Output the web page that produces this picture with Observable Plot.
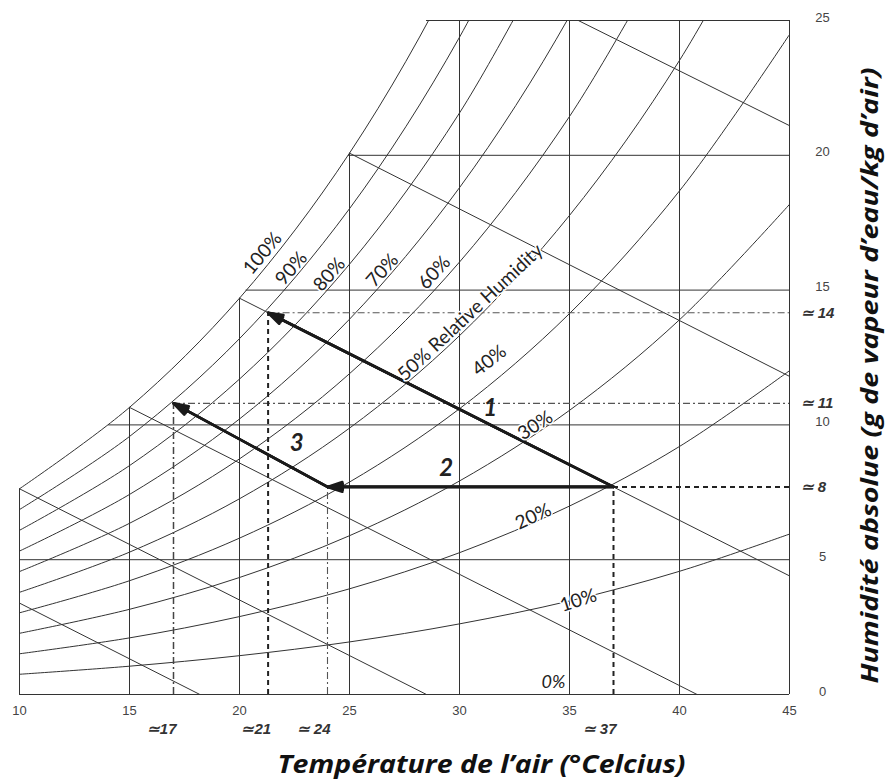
<!DOCTYPE html>
<html><head><meta charset="utf-8">
<script src="https://cdn.jsdelivr.net/npm/d3@7"></script>
<script src="https://cdn.jsdelivr.net/npm/@observablehq/plot@0.6"></script>
<style>body{margin:0;background:#fff}</style>
</head><body><div id="chart"></div>
<script>
// Relative-humidity curves: absolute humidity (g/kg) at each temperature (°C)
const temps = [10, 15, 20, 25, 30, 35, 40, 45];
const rhLevels = [100, 90, 80, 70, 60, 50, 40, 30, 20, 10];
const rh100 = [7.63, 10.65, 14.70, 20.08, 27.20, 36.58];
const rh90 = [6.86, 9.57, 13.20, 18.02, 24.38, 32.73];
const rh80 = [6.09, 8.49, 11.70, 15.96, 21.57, 28.92];
const rh70 = [5.32, 7.42, 10.22, 13.92, 18.80, 25.16, 33.43];
const rh60 = [4.56, 6.35, 8.74, 11.90, 16.04, 21.44, 28.44];
const rh50 = [3.79, 5.28, 7.26, 9.88, 13.31, 17.77, 23.52, 30.91];
const rh40 = [3.03, 4.22, 5.80, 7.88, 10.60, 14.13, 18.68, 24.48];
const rh30 = [2.27, 3.16, 4.34, 5.89, 7.92, 10.54, 13.90, 18.18];
const rh20 = [1.51, 2.10, 2.89, 3.92, 5.26, 6.99, 9.20, 12.01];
const rh10 = [0.75, 1.05, 1.44, 1.95, 2.62, 3.47, 4.57, 5.95];

// Grid lines (start on the saturation curve)
const gridT = [10, 15, 20, 25, 30, 35, 40, 45];
const gridTTop = [7.63, 10.65, 14.70, 20.08, 25, 25, 25, 25];
const gridW = [0, 5, 10, 15, 20, 25];
const gridWStart = [10, 10, 14.05, 20.3, 24.95, 28.5];

// Wet-bulb lines
const wbT1 = [10, 10, 15, 20, 25, 35.4];
const wbW1 = [3.39, 7.63, 10.65, 14.70, 20.08, 25];
const wbT2 = [18.2, 28.5, 40.8, 45, 45, 45];
const wbW2 = [0, 0, 0, 4.4, 11.8, 21.1];

// Processes 1, 2, 3
const procNames = ["1", "2", "3"];
const procFromT = [37, 37, 24];
const procFromW = [7.7, 7.7, 7.7];
const procToT = [21.3, 24, 17];
const procToW = [14.16, 7.7, 10.8];
const procLabelT = [31.4, 29.4, 22.6];
const procLabelW = [10.6, 8.4, 9.3];

// Read-off guide values
const guideXT = [17, 21.3, 24, 37];
const guideXTop = [10.8, 14.16, 7.7, 7.7];
const guideXLabels = ["≃17", "≃21", "≃ 24", "≃ 37"];
const guideYW = [14.16, 10.8, 7.7];
const guideYStart = [21.3, 17, 37];
const guideYLabels = ["≃ 14", "≃ 11", "≃ 8"];

// RH labels
const rhLabelText = ["100%", "90%", "80%", "70%", "60%", "50% Relative Humidity", "40%", "30%", "20%", "10%"];
const rhLabelT = [21.05, 22.36, 24.09, 26.5, 28.86, 30.5, 31.36, 33.45, 33.36, 35.4];
const rhLabelW = [16.36, 15.8, 15.58, 15.73, 15.65, 14.17, 12.39, 9.98, 6.6, 3.49];
const rhLabelAngle = [-50, -49, -49, -48, -48, -43, -38, -33, -25, -18];

const xTicks = [10, 15, 20, 25, 30, 35, 40, 45];
const yTicks = [0, 5, 10, 15, 20, 25];

const xTitle = "Température de l’air (°Celcius)";
const yTitle = "Humidité absolue (g de vapeur d’eau/kg d’air)";

const curves = [rh100, rh90, rh80, rh70, rh60, rh50, rh40, rh30, rh20, rh10];
const rhRows = rhLevels.flatMap((rh, i) => curves[i].map((w, j) => ({rh, T: temps[j], w})));
const vGrid = gridT.map((t, i) => ({t, top: gridTTop[i]}));
const hGrid = gridW.map((w, i) => ({w, start: gridWStart[i]}));
const wb = wbT1.map((t, i) => ({x1: t, y1: wbW1[i], x2: wbT2[i], y2: wbW2[i]}));
const procs = procNames.map((n, i) => ({n, x1: procFromT[i], y1: procFromW[i], x2: procToT[i], y2: procToW[i], lx: procLabelT[i], ly: procLabelW[i]}));
const gX = guideXT.map((t, i) => ({t, top: guideXTop[i], label: guideXLabels[i]}));
const gY = guideYW.map((w, i) => ({w, start: guideYStart[i], label: guideYLabels[i]}));
const rhLabels = rhLabelText.map((s, i) => ({s, T: rhLabelT[i], w: rhLabelW[i], a: rhLabelAngle[i]}));

const ink = "#333";
const lab = "Lato, 'Open Sans', sans-serif";
const ttl = "'Open Sans', Lato, sans-serif";
const tick = "'Liberation Sans', Arial, sans-serif";

const arrowHeads = [8, 22, 36].map(angle =>
  Plot.arrow(procs, {x1: "x1", y1: "y1", x2: "x2", y2: "y2", stroke: "#1a1a1a", strokeWidth: 2.6, headLength: 9, headAngle: angle})
);

const chart = Plot.plot({
  width: 886, height: 780,
  marginLeft: 19, marginRight: 97, marginTop: 20, marginBottom: 86,
  x: {domain: [10, 45]},
  y: {domain: [0, 25]},
  style: {background: "#fff"},
  marks: [
    Plot.ruleX(vGrid, {x: "t", y1: 0, y2: "top", stroke: ink, strokeWidth: 1}),
    Plot.ruleY(hGrid, {y: "w", x1: "start", x2: 45, stroke: ink, strokeWidth: 1}),
    Plot.line(rhRows, {x: "T", y: "w", z: "rh", curve: "catmull-rom", stroke: ink, strokeWidth: 1, clip: "frame"}),
    Plot.link(wb, {x1: "x1", y1: "y1", x2: "x2", y2: "y2", stroke: ink, strokeWidth: 1}),
    // guide dashed lines
    Plot.ruleY(gY.filter(d => d.w > 8), {y: "w", x1: "start", x2: 45, stroke: "#555", strokeWidth: 1.2, strokeDasharray: "7,3,2,3"}),
    Plot.ruleY(gY.filter(d => d.w < 8), {y: "w", x1: "start", x2: 45, stroke: "#222", strokeWidth: 2, strokeDasharray: "5,4"}),
    Plot.ruleX(gX.filter(d => d.t === 21.3 || d.t === 37), {x: "t", y1: 0, y2: "top", stroke: "#222", strokeWidth: 2, strokeDasharray: "5,4"}),
    Plot.ruleX(gX.filter(d => d.t === 17), {x: "t", y1: 0, y2: "top", stroke: "#444", strokeWidth: 1.5, strokeDasharray: "7,3,2,3"}),
    Plot.ruleX(gX.filter(d => d.t === 24), {x: "t", y1: 0, y2: "top", stroke: "#555", strokeWidth: 1.1, strokeDasharray: "7,3,2,3"}),
    ...arrowHeads,
    Plot.text(rhLabels, {x: "T", y: "w", text: "s", rotate: "a", fontFamily: lab, fontSize: 19, fill: "#222", stroke: "white", strokeWidth: 3}),
    Plot.text(["0%"], {x: 34.27, y: 0.45, fontFamily: lab, fontSize: 18, fontStyle: "italic", fill: "#222"}),
    Plot.text(procs, {x: "lx", y: "ly", text: "n", fontFamily: lab, fontSize: 24, fontWeight: "bold", fontStyle: "italic", fill: "#222"}),
    Plot.axisX({ticks: xTicks, tickSize: 0, tickPadding: 11, fontSize: 13, fontFamily: tick, fill: "#444", label: null}),
    Plot.axisY({anchor: "right", ticks: yTicks, tickSize: 0, tickPadding: 33, textAnchor: "middle", dy: -3, fontSize: 13, fontFamily: tick, fill: "#444", label: null}),
    Plot.text(gX, {x: "t", frameAnchor: "bottom", dy: 35, dx: 3, textAnchor: "end", lineAnchor: "middle", text: "label", fontSize: 15, fontWeight: "bold", fontStyle: "italic", fontFamily: tick, fill: "#333"}),
    Plot.text(gY, {y: "w", frameAnchor: "right", dx: 11, textAnchor: "start", text: "label", fontSize: 15, fontWeight: "bold", fontStyle: "italic", fontFamily: tick, fill: "#333"}),
    Plot.text([xTitle], {frameAnchor: "bottom", dx: 77, dy: 70, textAnchor: "middle", lineAnchor: "middle", fontFamily: ttl, fontSize: 25, fontWeight: "bold", fontStyle: "italic", fill: "#111"}),
    Plot.text([yTitle], {frameAnchor: "right", dx: 81, dy: 18, rotate: -90, textAnchor: "middle", lineAnchor: "middle", fontFamily: ttl, fontSize: 23, fontWeight: "bold", fontStyle: "italic", fill: "#111"})
  ]
});
document.getElementById("chart").appendChild(chart);
// fit the two axis titles to the widths they have in the reference
chart.querySelectorAll("text").forEach(t => {
  if (t.textContent === xTitle) { t.setAttribute("textLength", 408); t.setAttribute("lengthAdjust", "spacingAndGlyphs"); }
  if (t.textContent === yTitle) { t.setAttribute("textLength", 616); t.setAttribute("lengthAdjust", "spacingAndGlyphs"); }
});
</script>
</body></html>
